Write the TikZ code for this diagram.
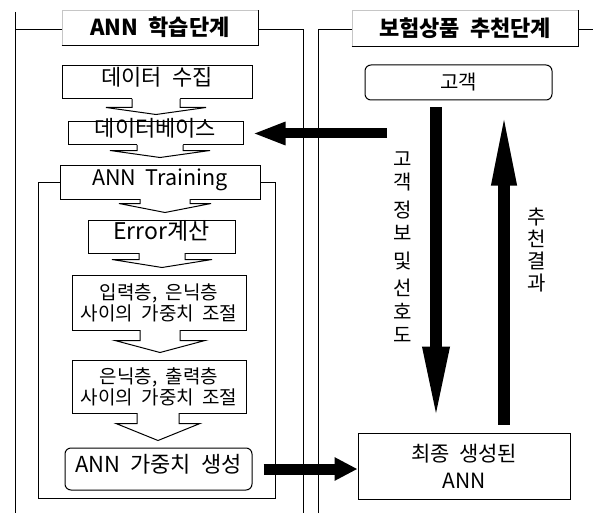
\documentclass[tikz,border=0pt]{standalone}
\usepackage{fontspec}
\setmainfont{Noto Sans CJK KR}[WordSpace=2]
\usetikzlibrary{arrows.meta,calc}
\tikzset{
  box/.style={draw, line width=1pt, inner sep=0pt, fill=white},
  rbox/.style={box, rounded corners=6pt},
  titlebox/.style={draw=gray!45, line width=0.6pt, inner sep=0pt, font=\bfseries\fontsize{22}{22}\selectfont},
  frameline/.style={line width=1pt},
  notch/.style={line width=1pt, line join=miter},
  fbig/.style={font=\fontsize{22}{22}\selectfont, text height=0.8em, text depth=0.2em},
  fsmall/.style={font=\fontsize{19}{21}\selectfont, align=center},
}
\newcommand\flowarrow[6]{% from, to, cx, shaft half width, head half width, shaft depth
  \fill[white] let \p1=(#1.south), \p2=(#2.north) in
    (#3pt-#4pt,\y1+1.3pt) -- (#3pt-#4pt,\y1-#6pt) -- (#3pt-#5pt,\y1-#6pt) -- (#3pt,\y2+7pt)
    -- (#3pt+#5pt,\y1-#6pt) -- (#3pt+#4pt,\y1-#6pt) -- (#3pt+#4pt,\y1+1.3pt) -- cycle;
  \draw[notch] let \p1=(#1.south), \p2=(#2.north) in
    (#3pt-#4pt,\y1+0.5pt) -- (#3pt-#4pt,\y1-#6pt) -- (#3pt-#5pt,\y1-#6pt) -- (#3pt,\y2+7pt)
    -- (#3pt+#5pt,\y1-#6pt) -- (#3pt+#4pt,\y1-#6pt) -- (#3pt+#4pt,\y1+0.5pt);
}
\begin{document}
\begin{tikzpicture}[x=1pt,y=1pt]
\useasboundingbox (0,0) rectangle (593,-513);

% titles
\node[titlebox, minimum width=196pt, minimum height=35pt] (t1) at (160,-27.5) {ANN 학습단계};
\draw[line width=1pt] (t1.south west) -- (t1.south east) -- (t1.north east);
\node[titlebox, minimum width=226pt, minimum height=36pt] (t2) at (465,-28) {보험상품 추천단계};
\draw[line width=1pt] (t2.south west) -- (t2.south east) -- (t2.north east);

% frames
\draw[frameline] (15,-12) -- (15,-513);
\draw[frameline] (15,-30) -- (t1.west |- 15,-30);
\draw[frameline] (t1.east |- 0,-30) -- (303,-30) -- (303,-513);
\draw[frameline] (318,-513) -- (318,-30) -- (t2.west |- 0,-30);
\draw[frameline] (t2.east |- 0,-30) -- (593,-30);

% left panel boxes
\node[box, fbig, minimum width=190pt, minimum height=33pt] (b1) at (157,-82.5) {데이터 수집};
\node[box, fbig, minimum width=175pt, minimum height=23pt] (b2) at (155.5,-133.5) {데이터베이스};
\node[box, fbig, font=\fontsize{21.5}{22}\selectfont, minimum width=200pt, minimum height=34pt] (b3) at (160,-182) {ANN Training};
\node[box, fbig, font=\fontsize{23}{23}\selectfont, minimum width=147pt, minimum height=33pt] (b4) at (161.5,-236.5) {Error계산};
\node[box, fsmall, minimum width=174pt, minimum height=55pt] (b5) at (159,-302.5) {입력층, 은닉층\\사이의 가중치 조절};
\node[box, fsmall, minimum width=174pt, minimum height=53pt] (b6) at (159,-386.5) {은닉층, 출력층\\사이의 가중치 조절};
\node[rbox, fbig, minimum width=187pt, minimum height=42pt] (b7) at (158.5,-469) {ANN 가중치 생성};

% training loop
\draw[frameline] (b3.west) -| (38,-498) -- (275,-498) |- (b3.east);

% flow arrows
\flowarrow{b1}{b2}{156}{24}{50}{8}
\flowarrow{b2}{b3}{160}{23}{50}{5}
\flowarrow{b3}{b4}{165}{25}{46}{4}
\flowarrow{b4}{b5}{162}{23}{50}{6}
\flowarrow{b5}{b6}{160}{20}{45}{10}
\flowarrow{b6}{b7}{158}{21}{42}{10}

% right panel
\node[rbox, font=\fontsize{20}{20}\selectfont, minimum width=187pt, minimum height=35pt] (r1) at (458.5,-82.5) {고객};
\node[box, font=\fontsize{21}{27}\selectfont, align=center, minimum width=212pt, minimum height=66pt] (r2) at (464,-466) {최종 생성된\\ANN};

\coordinate (dnx) at (436,0);
\coordinate (upx) at (504,0);
\draw[line width=12pt, -{Triangle[length=76pt 0 0, width=24pt 0 0]}, shorten <=7pt, shorten >=10pt]
  (r1.south -| dnx) -- (r2.north -| dnx);
\draw[line width=12pt, -{Triangle[length=78pt 0 0, width=22pt 0 0]}, shorten <=8pt, shorten >=7pt]
  (r2.north -| upx) -- (r1.south -| upx);

\node[font=\fontsize{20}{23.5}\selectfont, align=center, inner sep=0pt] (vt1) at (403,-247)
  {고\\객\\[4pt]정\\보\\[4pt]및\\[4pt]선\\호\\도};
\node[font=\fontsize{20}{22}\selectfont, align=center, inner sep=0pt] (vt2) at (537,-250)
  {추\\천\\결\\과};

% horizontal thick arrows
\coordinate (la) at (387,-133.5);
\draw[line width=10pt, -{Triangle[length=33pt 0 0, width=21pt 0 0]}, shorten >=9pt]
  (la) -- (b2.east |- la);
\draw[line width=11pt, -{Triangle[length=23pt 0 0, width=22pt 0 0]}, shorten <=11pt]
  (b7.east) -- (b7.east -| r2.west);
\end{tikzpicture}
\end{document}
